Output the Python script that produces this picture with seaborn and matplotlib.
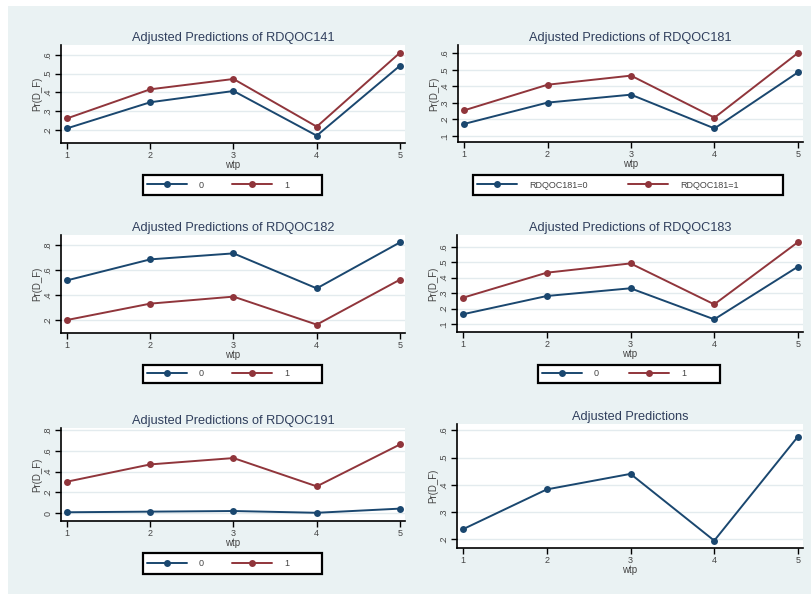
"""
Adjusted predictions of Pr(D_F) by wtp, Stata-like combined graph
"""

import pandas as pd
import matplotlib.pyplot as plt
from matplotlib.patches import Rectangle
from matplotlib.ticker import FuncFormatter
import seaborn as sns

sns.set_style("white")
plt.rcParams['font.family'] = ['Liberation Sans', 'DejaVu Sans']

wtp = [1, 2, 3, 4, 5]

q141_0 = [0.209, 0.348, 0.408, 0.170, 0.543]
q141_1 = [0.262, 0.417, 0.472, 0.218, 0.612]
q181_0 = [0.173, 0.302, 0.350, 0.146, 0.485]
q181_1 = [0.255, 0.410, 0.465, 0.211, 0.602]
q182_0 = [0.517, 0.685, 0.733, 0.453, 0.821]
q182_1 = [0.200, 0.331, 0.387, 0.163, 0.523]
q183_0 = [0.163, 0.281, 0.331, 0.130, 0.471]
q183_1 = [0.270, 0.432, 0.492, 0.227, 0.630]
q191_0 = [0.010, 0.016, 0.022, 0.005, 0.045]
q191_1 = [0.304, 0.470, 0.531, 0.259, 0.662]
overall = [0.237, 0.383, 0.440, 0.195, 0.577]

titles = ['Adjusted Predictions of RDQOC141', 'Adjusted Predictions of RDQOC181',
          'Adjusted Predictions of RDQOC182', 'Adjusted Predictions of RDQOC183',
          'Adjusted Predictions of RDQOC191', 'Adjusted Predictions']
yticks = [[.2, .3, .4, .5, .6], [.1, .2, .3, .4, .5, .6], [.2, .4, .6, .8],
          [.1, .2, .3, .4, .5, .6], [0, .2, .4, .6, .8], [.2, .3, .4, .5, .6]]
legend_labels = [['0', '1'], ['RDQOC181=0', 'RDQOC181=1'], ['0', '1'],
                 ['0', '1'], ['0', '1'], None]
series = [(q141_0, q141_1), (q181_0, q181_1), (q182_0, q182_1),
          (q183_0, q183_1), (q191_0, q191_1), (overall,)]

NAVY = '#1a476f'
MAROON = '#90353b'
BG = '#eaf2f3'
TXT = '#2f3e5c'
W, H = 812, 594
FS_LEG = 6.5
PX = FS_LEG * 100 / 72  # legend font size in pixels

# pixel boxes: left, right, top, bottom
boxes = [(61, 405, 45, 143), (458, 803, 45, 142),
         (61, 405, 235, 333), (457, 803, 235, 332),
         (61, 405, 428, 521), (457, 803, 424, 548)]
ylims = [(0.131, 0.653), (0.064, 0.65), (0.096, 0.88),
         (0.048, 0.676), (-0.074, 0.82), (0.168, 0.623)]
# legend boxes: left, right, top, bottom
leg_boxes = [(143, 322, 175, 195), (473, 783, 175, 195),
             (143, 322, 365, 383), (538, 720, 365, 383),
             (143, 322, 553, 574), None]

fig = plt.figure(figsize=(8.12, 5.94), dpi=100, facecolor='white')
fig.patches.append(Rectangle((8 / W, 0), 1 - 8 / W, (H - 6) / H,
                             transform=fig.transFigure, facecolor=BG,
                             edgecolor='none', zorder=-10))
renderer = fig.canvas.get_renderer()


def fmt(v, pos):
    if abs(v) < 1e-9:
        return '0'
    return ('%.1f' % v).lstrip('0')


for i in range(6):
    l, r, t, b = boxes[i]
    ax = fig.add_axes([l / W, 1 - b / H, (r - l) / W, (b - t) / H])
    ax.set_facecolor('white')

    cols = [NAVY, MAROON]
    labs = legend_labels[i] if legend_labels[i] else [None]
    for j, vals in enumerate(series[i]):
        df = pd.DataFrame({'wtp': wtp, 'pr': vals})
        sns.lineplot(data=df, x='wtp', y='pr', color=cols[j], marker='o',
                     markersize=5, markeredgewidth=0, linewidth=1.4,
                     label=labs[j], legend=False, ax=ax, zorder=3)

    ax.set_xlim(0.928, 5.06)
    ax.set_ylim(*ylims[i])
    ax.set_xticks(wtp)
    ax.set_yticks(yticks[i])
    ax.yaxis.set_major_formatter(FuncFormatter(fmt))
    ax.grid(axis='y', color='#e3ebee', linewidth=1)
    ax.grid(axis='x', visible=False)

    for s in ['top', 'right']:
        ax.spines[s].set_visible(False)
    for s in ['left', 'bottom']:
        ax.spines[s].set_color('black')
        ax.spines[s].set_linewidth(1.2)

    ax.tick_params(axis='both', direction='out', length=4, width=1,
                   color='black', labelsize=6.5, labelcolor='#444444', pad=2,
                   left=True, bottom=True)
    plt.setp(ax.get_yticklabels(), rotation=90, va='center')

    ax.set_title(titles[i], fontsize=9.2, color=TXT, pad=3)
    ax.set_xlabel('wtp', fontsize=7, color='#444444', labelpad=0)
    ax.set_ylabel('Pr(D_F)', fontsize=7, color='#444444', labelpad=1)

    if leg_boxes[i]:
        ll, lr, lt, lb = leg_boxes[i]
        # Stata-like frame: equal-width key columns inside a fixed box
        ax.add_patch(Rectangle((ll / W, 1 - lb / H), (lr - ll) / W, (lb - lt) / H,
                               transform=fig.transFigure, clip_on=False,
                               facecolor='white', edgecolor='black',
                               linewidth=1.6, zorder=4))
        half = (lr - ll) / 2
        tmp = fig.text(0, 0, labs[0], fontsize=FS_LEG)
        w0 = tmp.get_window_extent(renderer).width
        tmp.remove()
        col1 = 4 + 40 + 12 + w0
        cs = (half - col1) / PX
        leg = ax.legend(loc='center left',
                        bbox_to_anchor=((ll + 4) / W, 1 - (lt + lb) / 2 / H),
                        bbox_transform=fig.transFigure, ncol=2,
                        fontsize=FS_LEG, frameon=False,
                        handlelength=40 / PX, columnspacing=cs,
                        handletextpad=12 / PX, borderpad=0,
                        borderaxespad=0, labelcolor='#444444')
        leg.set_zorder(5)

plt.savefig('out.png', dpi=100, facecolor='white')
plt.close()
